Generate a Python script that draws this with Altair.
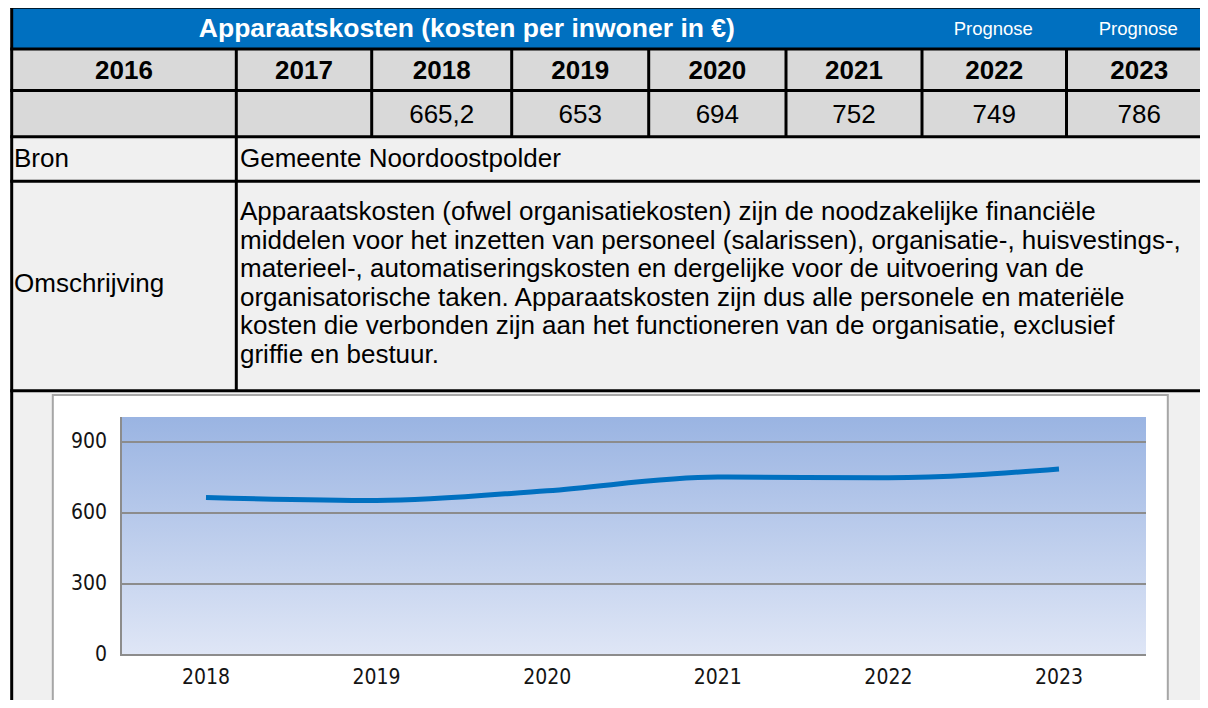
import altair as alt
import pandas as pd

# ---------------- data ----------------
title_text = "Apparaatskosten (kosten per inwoner in €)"
prognose_labels = ["Prognose", "Prognose"]
header_years = ["2016", "2017", "2018", "2019", "2020", "2021", "2022", "2023"]
chart_years = [2018, 2019, 2020, 2021, 2022, 2023]
chart_values = [665.2, 653, 694, 752, 749, 786]
y_ticks = [0, 300, 600, 900]
bron_label = "Bron"
bron_text = "Gemeente Noordoostpolder"
omschr_label = "Omschrijving"
omschr_lines = [
    "Apparaatskosten (ofwel organisatiekosten) zijn de noodzakelijke financiële",
    "middelen voor het inzetten van personeel (salarissen), organisatie-, huisvestings-,",
    "materieel-, automatiseringskosten en dergelijke voor de uitvoering van de",
    "organisatorische taken. Apparaatskosten zijn dus alle personele en materiële",
    "kosten die verbonden zijn aan het functioneren van de organisatie, exclusief",
    "griffie en bestuur.",
]

# ---------------- layout (page pixels) ----------------
W, H, OFF = 1192, 692, 8
COLS = [11.7, 236.3, 371.7, 511.7, 648.7, 786.0, 922.0, 1066.5, 1212.0]
ROWS = [7.3, 49.0, 90.5, 136.7, 181.3, 390.7]
RIGHT, BOTTOM = 1214, 712
FONT = "Liberation Sans, Arial, sans-serif"
CFONT = "DejaVu Sans Condensed, Liberation Sans Narrow, DejaVu Sans, sans-serif"

PX = alt.Scale(domain=[OFF, OFF + W], range=[0, W], nice=False, zero=False)
PY = alt.Scale(domain=[OFF, OFF + H], range=[0, H], nice=False, zero=False)


def ex(f):
    return alt.X(f"{f}:Q", scale=PX, axis=None)


def ey(f):
    return alt.Y(f"{f}:Q", scale=PY, axis=None)


# background fills
fills = pd.DataFrame([
    dict(x0=COLS[0], x1=RIGHT, y0=ROWS[0], y1=ROWS[1], fill="#0070C0"),
    dict(x0=COLS[0], x1=RIGHT, y0=ROWS[1], y1=ROWS[3], fill="#D9D9D9"),
    dict(x0=COLS[0], x1=RIGHT, y0=ROWS[3], y1=BOTTOM, fill="#F0F0F0"),
])
fill_layer = alt.Chart(fills).mark_rect().encode(
    x=ex("x0"), x2="x1", y=ey("y0"), y2="y1",
    color=alt.Color("fill:N", scale=None))

box = pd.DataFrame([dict(x0=52.8, x1=1167.8, y0=395.0, y1=706.0)])
box_layer = alt.Chart(box).mark_rect(fill="white", stroke="#A6A6A6", strokeWidth=2).encode(
    x=ex("x0"), x2="x1", y=ey("y0"), y2="y1")

plot_bg = pd.DataFrame([dict(x0=121.0, x1=1146.0, y0=417.0, y1=655.0)])
grad = alt.Gradient(
    gradient="linear",
    stops=[alt.GradientStop(color="#9AB4E2", offset=0),
           alt.GradientStop(color="#DFE6F6", offset=1)],
    x1=0, x2=0, y1=0, y2=1)
plot_bg_layer = alt.Chart(plot_bg).mark_rect(color=grad).encode(
    x=ex("x0"), x2="x1", y=ey("y0"), y2="y1")

plot_left = pd.DataFrame([dict(x0=121.0, x1=121.0, y0=417.0, y1=656.0)])
plot_left_layer = alt.Chart(plot_left).mark_rule(color="#8C8C8C", strokeWidth=2).encode(
    x=ex("x0"), x2="x1", y=ey("y0"), y2="y1")

# ---------------- line chart (own scales) ----------------
XS = alt.Scale(domain=[2018, 2023], range=[206 - OFF, 1059 - OFF], nice=False, zero=False)
YS = alt.Scale(domain=[0, 900], range=[655 - OFF, 442 - OFF], nice=False, zero=False)

ticks_df = pd.DataFrame({"v": y_ticks})
grid_layer = alt.Chart(ticks_df).mark_rule(color="#8C8C8C", strokeWidth=2).encode(
    y=alt.Y("v:Q", scale=YS, axis=None),
    x=alt.value(121 - OFF), x2=alt.value(1146 - OFF))

ylab_layer = alt.Chart(ticks_df).mark_text(
    align="right", baseline="middle", font=CFONT, fontSize=21, color="#141414").encode(
    y=alt.Y("v:Q", scale=YS, axis=None),
    x=alt.value(107 - OFF),
    text=alt.Text("v:Q", format="d"))

series = pd.DataFrame({"year": chart_years, "value": chart_values})
line_layer = alt.Chart(series).mark_line(
    color="#0070C0", strokeWidth=5, interpolate="monotone").encode(
    x=alt.X("year:Q", scale=XS, axis=None),
    y=alt.Y("value:Q", scale=YS, axis=None))

xlab_layer = alt.Chart(series).mark_text(
    align="center", baseline="middle", font=CFONT, fontSize=21, color="#141414").encode(
    x=alt.X("year:Q", scale=XS, axis=None),
    y=alt.value(678 - OFF),
    text=alt.Text("year:Q", format="d"))

# ---------------- borders ----------------
rules = []
for r in ROWS:
    rules.append(dict(x0=COLS[0] - 1.5, x1=RIGHT, y0=r, y1=r))
rules.append(dict(x0=COLS[0], x1=COLS[0], y0=ROWS[0] - 1.5, y1=BOTTOM))
for c in COLS[1:-1]:
    rules.append(dict(x0=c, x1=c, y0=ROWS[1], y1=ROWS[3]))
rules.append(dict(x0=COLS[1], x1=COLS[1], y0=ROWS[3], y1=ROWS[5]))
rule_layer = alt.Chart(pd.DataFrame(rules)).mark_rule(color="black", strokeWidth=3).encode(
    x=ex("x0"), x2="x1", y=ey("y0"), y2="y1")

# ---------------- texts ----------------
centers = [(COLS[i] + COLS[i + 1]) / 2 for i in range(len(header_years))]

title_df = pd.DataFrame([dict(x=(COLS[0] + COLS[6]) / 2, y=29, t=title_text)])
title_layer = alt.Chart(title_df).mark_text(
    font=FONT, fontSize=26.5, fontWeight="bold", color="white", baseline="middle").encode(
    x=ex("x"), y=ey("y"), text="t:N")

prog_df = pd.DataFrame([dict(x=centers[6 + i] - 1, y=28.5, t=p) for i, p in enumerate(prognose_labels)])
prog_layer = alt.Chart(prog_df).mark_text(
    font=FONT, fontSize=18.5, color="white", baseline="middle").encode(
    x=ex("x"), y=ey("y"), text="t:N")

year_df = pd.DataFrame([dict(x=centers[i], y=70.5, t=yv) for i, yv in enumerate(header_years)])
year_layer = alt.Chart(year_df).mark_text(
    font=FONT, fontSize=26, fontWeight="bold", color="black", baseline="middle").encode(
    x=ex("x"), y=ey("y"), text="t:N")

val_lookup = {str(y): f"{v:g}".replace(".", ",") for y, v in zip(chart_years, chart_values)}
val_df = pd.DataFrame([dict(x=centers[i], y=114.5, t=val_lookup.get(yv, ""))
                       for i, yv in enumerate(header_years) if yv in val_lookup])
val_layer = alt.Chart(val_df).mark_text(
    font=FONT, fontSize=26, color="black", baseline="middle").encode(
    x=ex("x"), y=ey("y"), text="t:N")

left_df = pd.DataFrame([
    dict(x=14, y=158.5, t=bron_label),
    dict(x=240, y=158.5, t=bron_text),
    dict(x=14, y=284, t=omschr_label),
] + [dict(x=240, y=212 + 28.5 * i, t=s) for i, s in enumerate(omschr_lines)])
left_layer = alt.Chart(left_df).mark_text(
    font=FONT, fontSize=26, color="black", align="left", baseline="middle").encode(
    x=ex("x"), y=ey("y"), text="t:N")

chart = alt.layer(
    fill_layer, box_layer, plot_bg_layer, grid_layer, plot_left_layer, line_layer,
    ylab_layer, xlab_layer, rule_layer,
    title_layer, prog_layer, year_layer, val_layer, left_layer,
).resolve_scale(
    x="independent", y="independent"
).properties(
    width=W, height=H, padding=0,
    autosize=alt.AutoSizeParams(type="none"),
).configure_view(strokeWidth=0)

chart.save("out.html", embed_options={"renderer": "svg", "actions": False})
